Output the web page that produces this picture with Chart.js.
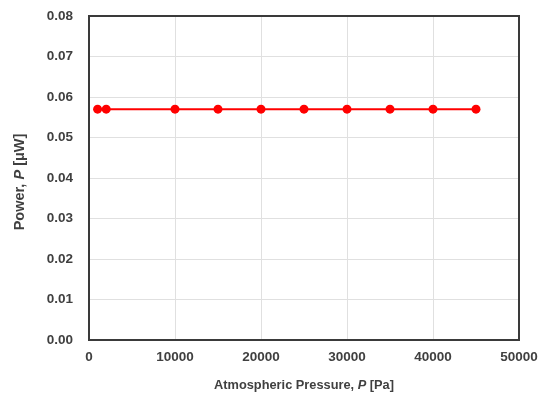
<!DOCTYPE html>
<html>
<head>
<meta charset="utf-8">
<script src="https://cdn.jsdelivr.net/npm/chart.js@4"></script>
<style>
  html, body { margin: 0; padding: 0; background: #fff; }
  #wrap { width: 541px; height: 396px; position: relative; }
</style>
</head>
<body>
<div id="wrap"><canvas id="powerChart"></canvas></div>
<script>
// pressure in Pa, power in uW
var pressure = [1000, 2000, 10000, 15000, 20000, 25000, 30000, 35000, 40000, 45000];
var power = [0.057, 0.057, 0.057, 0.057, 0.057, 0.057, 0.057, 0.057, 0.057, 0.057];
var xTitle = [["Atmospheric Pressure, ", ""], ["P", "italic "], [" [Pa]", ""]];
var yTitle = [["Power, ", ""], ["P", "italic "], [" [\u03bcW]", ""]];

var textColor = "#404040";
var family = "'Liberation Sans', Arial, sans-serif";

var points = [];
for (var i in pressure) {
  points.push({ x: pressure[i], y: power[i] });
}

function drawParts(ctx, parts, size) {
  var total = 0;
  for (var i in parts) {
    ctx.font = parts[i][1] + "bold " + size + "px " + family;
    total += ctx.measureText(parts[i][0]).width;
  }
  var x = -total / 2;
  for (var j in parts) {
    ctx.font = parts[j][1] + "bold " + size + "px " + family;
    ctx.fillText(parts[j][0], x, 0);
    x += ctx.measureText(parts[j][0]).width;
  }
}

// box around the plot plus the two axis titles
var frame = {
  id: "frame",
  afterDraw: function (chart) {
    var a = chart.chartArea;
    var ctx = chart.ctx;
    ctx.save();
    ctx.strokeStyle = "#3a3a3a";
    ctx.lineWidth = 2;
    ctx.strokeRect(a.left, a.top, a.right - a.left, a.bottom - a.top);
    ctx.fillStyle = textColor;
    ctx.textBaseline = "middle";
    ctx.textAlign = "left";
    ctx.save();
    ctx.translate((a.left + a.right) / 2, 385);
    drawParts(ctx, xTitle, 12.8);
    ctx.restore();
    ctx.save();
    ctx.translate(20, (a.top + a.bottom) / 2 + 4);
    ctx.rotate(-Math.PI / 2);
    drawParts(ctx, yTitle, 14.5);
    ctx.restore();
    ctx.restore();
  }
};

var ctx = document.getElementById("powerChart");

var myChart = new Chart(ctx, {
  type: "scatter",
  data: {
    datasets: [
      {
        label: "Power",
        data: points,
        showLine: true,
        borderColor: "#ff0000",
        backgroundColor: "#ff0000",
        borderWidth: 2,
        pointRadius: 4.5,
        pointBorderWidth: 0,
      },
    ],
  },
  options: {
    responsive: true,
    maintainAspectRatio: false,
    animation: false,
    layout: { padding: { left: 0, right: 22, top: 16, bottom: 0 } },
    plugins: {
      legend: { display: false },
      tooltip: { enabled: false },
    },
    scales: {
      x: {
        type: "linear",
        min: 0,
        max: 50000,
        afterFit: function (scale) {
          scale.height = 56;
          scale.paddingLeft = 0;
          scale.paddingRight = 0;
        },
        ticks: {
          stepSize: 10000,
          padding: 9,
          color: textColor,
          font: { family: family, size: 13.5, weight: "bold" },
          callback: function (v) { return String(v); },
        },
        grid: { color: "#e0e0e0", lineWidth: 1, tickLength: 0 },
        border: { display: false },
      },
      y: {
        min: 0,
        max: 0.08,
        afterFit: function (scale) {
          scale.width = 89;
          scale.paddingTop = 0;
          scale.paddingBottom = 0;
        },
        ticks: {
          stepSize: 0.01,
          padding: 16,
          color: textColor,
          font: { family: family, size: 13.5, weight: "bold" },
          callback: function (v) { return v.toFixed(2); },
        },
        grid: { color: "#e0e0e0", lineWidth: 1, tickLength: 0 },
        border: { display: false },
      },
    },
  },
  plugins: [frame],
});
</script>
</body>
</html>
